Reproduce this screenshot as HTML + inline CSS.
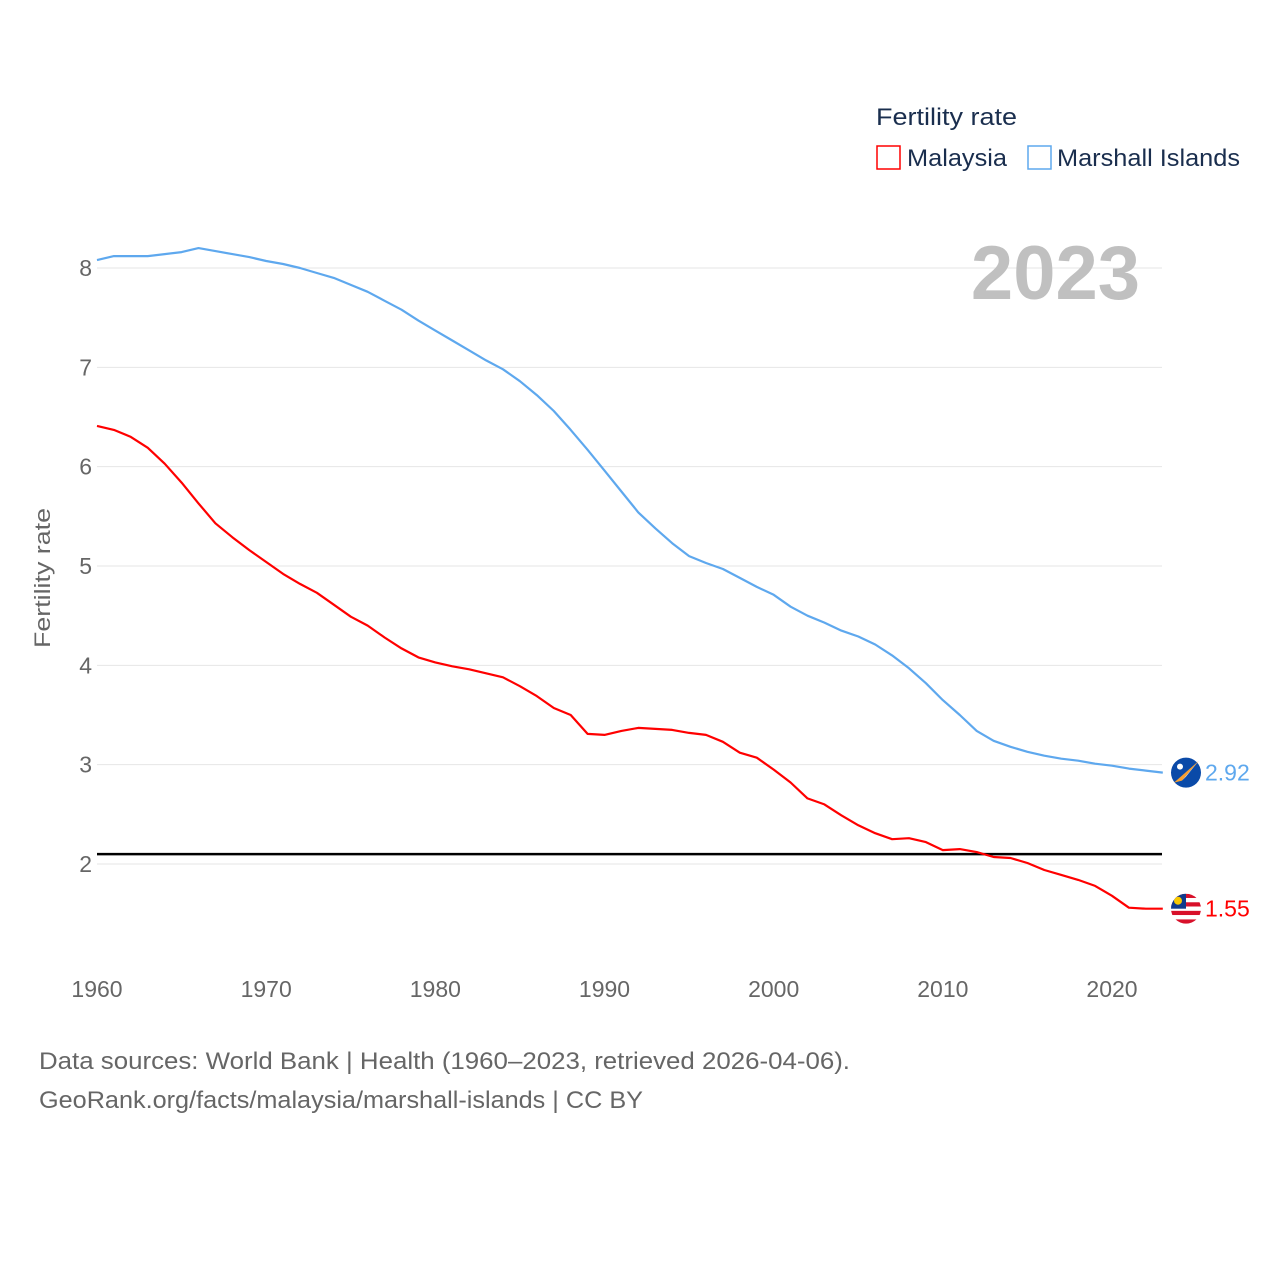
<!DOCTYPE html>
<html><head><meta charset="utf-8"><style>
body{margin:0;background:#fff;font-family:"Liberation Sans",sans-serif}
#wrap{position:relative;width:1280px;height:1280px}
</style></head><body>
<div id="wrap">
<svg id="chart" width="1280" height="1280"></svg>
</div>
<script>
const years=[];for(let y=1960;y<=2023;y++)years.push(y);
const malaysia=[6.41,6.37,6.30,6.19,6.03,5.84,5.63,5.43,5.29,5.16,5.04,4.92,4.82,4.73,4.61,4.49,4.40,4.28,4.17,4.08,4.03,3.99,3.96,3.92,3.88,3.79,3.69,3.57,3.50,3.31,3.30,3.34,3.37,3.36,3.35,3.32,3.30,3.23,3.12,3.07,2.95,2.82,2.66,2.60,2.49,2.39,2.31,2.25,2.26,2.22,2.14,2.15,2.12,2.07,2.06,2.01,1.94,1.89,1.84,1.78,1.68,1.56,1.55,1.55];
const marshall=[8.08,8.12,8.12,8.12,8.14,8.16,8.20,8.17,8.14,8.11,8.07,8.04,8.00,7.95,7.90,7.83,7.76,7.67,7.58,7.47,7.37,7.27,7.17,7.07,6.98,6.86,6.72,6.56,6.37,6.17,5.96,5.75,5.54,5.38,5.23,5.10,5.03,4.97,4.88,4.79,4.71,4.59,4.50,4.43,4.35,4.29,4.21,4.10,3.97,3.82,3.65,3.50,3.34,3.24,3.18,3.13,3.09,3.06,3.04,3.01,2.99,2.96,2.94,2.92];
const yTicks=[2,3,4,5,6,7,8];
const xTicks=[1960,1970,1980,1990,2000,2010,2020];
const replacement=[2.1];
const NS="http://www.w3.org/2000/svg";
const svg=document.getElementById('chart');
const X=y=>97+(y-1960)*(1015/60);
const Y=v=>268+(8-v)*(596/6);
function el(t,a,txt){const e=document.createElementNS(NS,t);for(const k in a)e.setAttribute(k,a[k]);if(txt!==undefined)e.textContent=txt;svg.appendChild(e);return e;}
yTicks.forEach(t=>{
 const g=el('line',{x1:97,x2:1162,y1:Y(t),y2:Y(t),stroke:'#e6e6e6','stroke-width':1});
 
 
 const l=el('text',{x:92,y:Y(t)+8,'text-anchor':'end','font-size':23,fill:'#666'},t);
 
 
});
xTicks.forEach(t=>{
 const l=el('text',{x:X(t),y:997,'text-anchor':'middle','font-size':23,fill:'#666'},t);
 
 
});
const yt=el('text',{x:0,y:0,transform:'translate(50,578) rotate(-90)','text-anchor':'middle','font-size':22,fill:'#666',textLength:140,lengthAdjust:'spacingAndGlyphs'},'Fertility rate');


const yr=el('text',{x:1140,y:299,'text-anchor':'end','font-size':76,'font-weight':'bold',fill:'#c0c0c0'},'2023');


const rl=el('line',{x1:97,x2:1162,y1:Y(replacement[0]),y2:Y(replacement[0]),stroke:'#000','stroke-width':2.5});


function line(data,color,name){
 const d=data.map((v,i)=>(i?'L':'M')+X(years[i]).toFixed(1)+','+Y(v).toFixed(1)).join('');
 const p=el('path',{d:d,fill:'none',stroke:color,'stroke-width':2.2,'stroke-linejoin':'round'});
 
 
}
line(marshall,'#5ea8ee','line-marshall-islands');
line(malaysia,'#ff0000','line-malaysia');
const my=Y(marshall[marshall.length-1]), ky=Y(malaysia[malaysia.length-1]);
const mf=el('circle',{cx:1186,cy:my,r:15,fill:'#0a4aa8'});


el('path',{d:`M1174,${my+10} L1199,${my-12} L1182,${my+8}Z`,fill:'#f8a030'});
el('path',{d:`M1182,${my+8} L1199,${my-12} L1186,${my+4}Z`,fill:'#fff'});
el('circle',{cx:1180,cy:my-6,r:3,fill:'#fff'});
const ml=el('text',{x:1205,y:my+8,'font-size':23,fill:'#5ea8ee'},marshall[marshall.length-1].toFixed(2));


const cp=el('clipPath',{id:'mc'});const cc=document.createElementNS(NS,'circle');cc.setAttribute('cx',1186);cc.setAttribute('cy',ky);cc.setAttribute('r',15);cp.appendChild(cc);
const fg=el('g',{'clip-path':'url(#mc)'});


for(let i=0;i<7;i++){const r=document.createElementNS(NS,'rect');r.setAttribute('x',1170);r.setAttribute('y',ky-15+i*30/7);r.setAttribute('width',32);r.setAttribute('height',30/7);r.setAttribute('fill',i%2?'#fff':'#d8102a');fg.appendChild(r);}
const cn=document.createElementNS(NS,'rect');cn.setAttribute('x',1170);cn.setAttribute('y',ky-15);cn.setAttribute('width',16);cn.setAttribute('height',15);cn.setAttribute('fill','#103a8c');fg.appendChild(cn);
const mo=document.createElementNS(NS,'circle');mo.setAttribute('cx',1178);mo.setAttribute('cy',ky-8);mo.setAttribute('r',4);mo.setAttribute('fill','#f8c800');fg.appendChild(mo);
const kl=el('text',{x:1205,y:ky+8,'font-size':23,fill:'#ff0000'},malaysia[malaysia.length-1].toFixed(2));


const lt=el('text',{x:876,y:125,'font-size':24,fill:'#1a2e4e',textLength:141,lengthAdjust:'spacingAndGlyphs'},'Fertility rate');


const r1=el('rect',{x:877,y:146,width:23,height:23,fill:'none',stroke:'#ff0000','stroke-width':1.5});


const t1=el('text',{x:907,y:166,'font-size':24,fill:'#1a2e4e',textLength:100,lengthAdjust:'spacingAndGlyphs'},'Malaysia');


const r2=el('rect',{x:1028,y:146,width:23,height:23,fill:'none',stroke:'#5ea8ee','stroke-width':1.5});


const t2=el('text',{x:1057,y:166,'font-size':24,fill:'#1a2e4e',textLength:183,lengthAdjust:'spacingAndGlyphs'},'Marshall Islands');


const s1=el('text',{x:39,y:1069,'font-size':24,fill:'#666',textLength:811,lengthAdjust:'spacingAndGlyphs'},'Data sources: World Bank | Health (1960–2023, retrieved 2026-04-06).');


const s2=el('text',{x:39,y:1108,'font-size':24,fill:'#666',textLength:604,lengthAdjust:'spacingAndGlyphs'},'GeoRank.org/facts/malaysia/marshall-islands | CC BY');


</script>
</body></html>
